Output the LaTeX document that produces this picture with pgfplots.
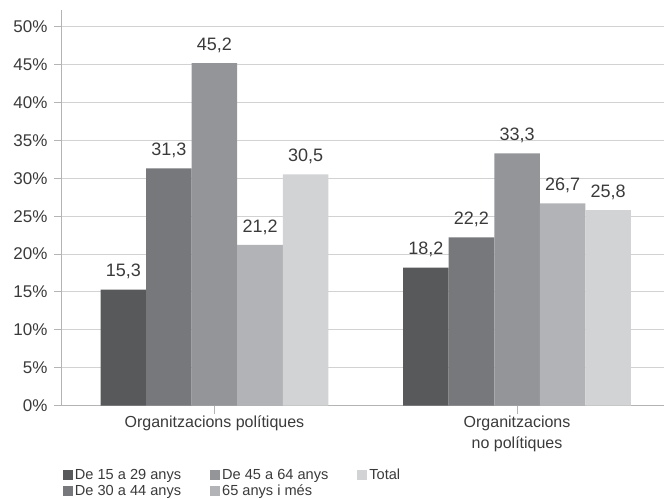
\documentclass[border=0pt]{standalone}
\usepackage{pgfplots}
\pgfplotsset{compat=1.18}
\usepackage{fontspec}
\setmainfont{Liberation Sans}
\definecolor{c1}{HTML}{58595B}
\definecolor{c2}{HTML}{77787B}
\definecolor{c3}{HTML}{939598}
\definecolor{c4}{HTML}{B1B3B6}
\definecolor{c5}{HTML}{D1D3D4}
\definecolor{txt}{HTML}{3A3A3A}
\definecolor{gridc}{HTML}{D2D2D2}
\definecolor{axc}{HTML}{B4B4B4}
\begin{document}
\begin{tikzpicture}
\begin{axis}[
  scale only axis,
  width=602pt, height=396pt,
  ybar=0pt, bar width=45.6pt,
  xmin=-0.504, xmax=1.484,
  ymin=0, ymax=52.2,
  xtick={0,1},
  xticklabels={Organitzacions polítiques, {Organitzacions\\no polítiques}},
  xticklabel style={align=center, font=\fontsize{16}{21}\selectfont, text=txt, yshift=1pt},
  ytick={0,5,...,50},
  yticklabel={\pgfmathprintnumber{\tick}\%},
  yticklabel style={font=\fontsize{17}{19}\selectfont, text=txt, xshift=-3pt},
  /pgf/number format/assume math mode=true,
  axis x line*=bottom, axis y line*=left,
  axis line style={axc, line width=1pt, -},
  tick align=outside, major tick length=8pt,
  tick style={axc, line width=1pt},
  ymajorgrids, grid style={gridc, line width=1pt},
  nodes near coords,
  nodes near coords style={font=\fontsize{18}{20}\selectfont, text=txt, yshift=7pt,
    /pgf/number format/.cd, fixed, fixed zerofill, precision=1, use comma},
  legend columns=2, transpose legend,
  legend style={at={(0,0)}, anchor=north west, xshift=1pt, yshift=-61pt,
    draw=none, fill=none, inner sep=0pt, outer sep=0pt,
    font=\fontsize{14.6}{16}\selectfont, text=txt,
    /tikz/every even column/.append style={column sep=27pt},
    /tikz/every odd column/.append style={column sep=0pt},
    row sep=0pt},
  legend cell align=left,
  legend image code/.code={\fill[#1] (0pt,-5pt) rectangle (10pt,5pt);},
]
\addplot[fill=c1, draw=none] coordinates {(0,15.3) (1,18.2)};
\addplot[fill=c2, draw=none] coordinates {(0,31.3) (1,22.2)};
\addplot[fill=c3, draw=none] coordinates {(0,45.2) (1,33.3)};
\addplot[fill=c4, draw=none] coordinates {(0,21.2) (1,26.7)};
\addplot[fill=c5, draw=none] coordinates {(0,30.5) (1,25.8)};
\legend{De 15 a 29 anys, De 30 a 44 anys, De 45 a 64 anys, 65 anys i més, Total}
\end{axis}
\useasboundingbox (-62pt,-94pt) rectangle (602pt,406pt);
\end{tikzpicture}
\end{document}
